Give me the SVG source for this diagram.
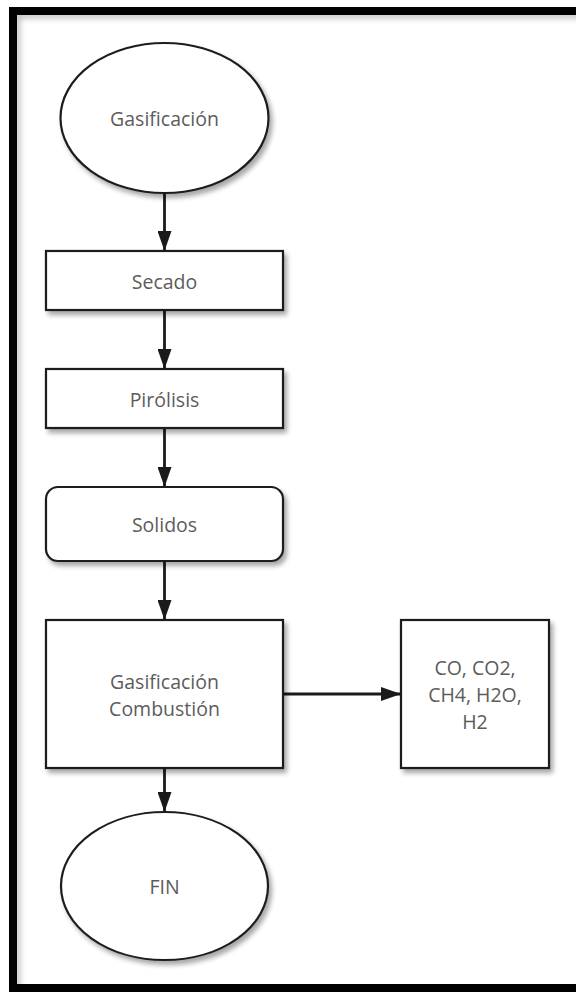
<svg xmlns="http://www.w3.org/2000/svg" width="576" height="992" viewBox="0 0 576 992">
<defs>
<filter id="sh" x="-20%" y="-20%" width="140%" height="140%">
<feGaussianBlur in="SourceAlpha" stdDeviation="2.5"/>
<feOffset dx="3" dy="4" result="o"/>
<feComponentTransfer><feFuncA type="linear" slope="0.35"/></feComponentTransfer>
<feMerge><feMergeNode/><feMergeNode in="SourceGraphic"/></feMerge>
</filter>
<filter id="inner" x="-5%" y="-5%" width="110%" height="110%">
<feGaussianBlur stdDeviation="3"/>
</filter>
<marker id="ah" viewBox="0 0 20 14" refX="20" refY="7" markerWidth="20" markerHeight="14" markerUnits="userSpaceOnUse" orient="auto">
<path d="M0,0 L20,7 L0,14 Z" fill="#1a1a1a"/>
</marker>
</defs>
<style>
.n{fill:#fff;stroke:#1e1e1e;stroke-width:2.2;filter:url(#sh)}
.t{font-family:"Open Sans","Noto Sans","DejaVu Sans",sans-serif;font-size:19.5px;fill:#5c5c5c;text-anchor:middle;dominant-baseline:central}
.c{fill:none;stroke:#1a1a1a;stroke-width:2.8;marker-end:url(#ah)}
</style>
<rect x="0" y="0" width="576" height="992" fill="#fff"/>
<g id="frame">
<rect x="17" y="15" width="580" height="990" fill="none" stroke="#bbb" stroke-width="6" filter="url(#inner)"/>
<rect x="13" y="11" width="600" height="977" fill="none" stroke="#000" stroke-width="8"/>
</g>
<g id="connectors">
<line class="c" x1="164.5" y1="193" x2="164.5" y2="251"/>
<line class="c" x1="164.5" y1="310" x2="164.5" y2="369"/>
<line class="c" x1="164.5" y1="428" x2="164.5" y2="487"/>
<line class="c" x1="164.5" y1="561" x2="164.5" y2="620"/>
<line class="c" x1="283" y1="694" x2="401" y2="694"/>
<line class="c" x1="164.5" y1="768" x2="164.5" y2="812"/>
</g>
<g id="start">
<ellipse class="n" cx="164.5" cy="118" rx="104" ry="75"/>
<text class="t" x="164.5" y="118">Gasificación</text>
</g>
<g id="secado">
<rect class="n" x="46" y="251" width="237" height="59"/>
<text class="t" x="164.5" y="281">Secado</text>
</g>
<g id="pirolisis">
<rect class="n" x="46" y="369" width="237" height="59"/>
<text class="t" x="164.5" y="399">Pirólisis</text>
</g>
<g id="solidos">
<rect class="n" x="46" y="487" width="237" height="74" rx="12" ry="12"/>
<text class="t" x="164.5" y="524">Solidos</text>
</g>
<g id="gasificacion-combustion">
<rect class="n" x="46" y="620" width="237" height="148"/>
<text class="t" x="164.5" y="681">Gasificación</text>
<text class="t" x="164.5" y="708">Combustión</text>
</g>
<g id="gases">
<rect class="n" x="401" y="620" width="148" height="148"/>
<text class="t" x="475" y="667">CO, CO2,</text>
<text class="t" x="475" y="694">CH4, H2O,</text>
<text class="t" x="475" y="721">H2</text>
</g>
<g id="fin">
<ellipse class="n" cx="164.5" cy="886" rx="103.5" ry="74"/>
<text class="t" x="164.5" y="886">FIN</text>
</g>
</svg>
